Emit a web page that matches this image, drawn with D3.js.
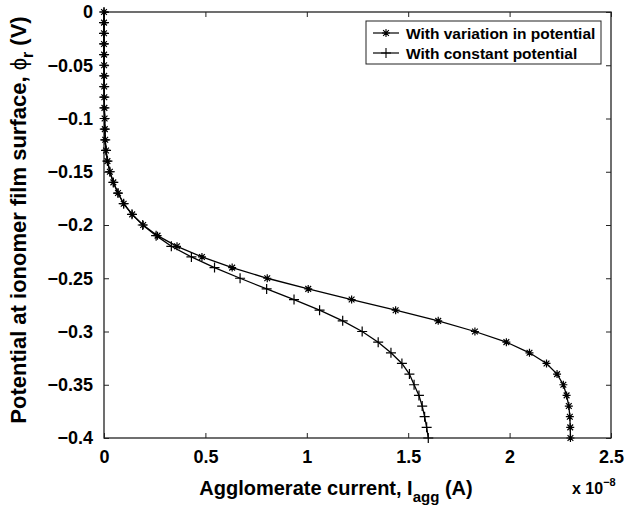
<!DOCTYPE html>
<html><head><meta charset="utf-8">
<script src="https://cdn.jsdelivr.net/npm/d3@7"></script>
<style>body{margin:0;background:#fff}svg{display:block}text{font-family:"Liberation Sans",Arial,Helvetica,sans-serif;font-weight:bold;fill:#000}</style>
</head><body><svg id="c" width="643" height="511"></svg>
<script>
const potential = [0,-0.01,-0.02,-0.03,-0.04,-0.05,-0.06,-0.07,-0.08,-0.09,-0.10,-0.11,-0.12,-0.13,-0.14,-0.15,-0.16,-0.17,-0.18,-0.19,-0.20,-0.21,-0.22,-0.23,-0.24,-0.25,-0.26,-0.27,-0.28,-0.29,-0.30,-0.31,-0.32,-0.33,-0.34,-0.35,-0.36,-0.37,-0.38,-0.39,-0.40];
const currentVariation = [0,0,0,0,0.0005,0.0005,0.001,0.001,0.0015,0.002,0.003,0.004,0.006,0.010,0.017,0.029,0.046,0.069,0.097,0.139,0.193,0.264,0.360,0.483,0.632,0.805,1.007,1.221,1.438,1.648,1.829,1.984,2.098,2.182,2.234,2.265,2.281,2.292,2.297,2.299,2.300];
const currentConstant = [0,0,0,0,0.0005,0.0005,0.001,0.001,0.0015,0.002,0.003,0.004,0.006,0.010,0.017,0.029,0.046,0.069,0.097,0.138,0.191,0.257,0.332,0.431,0.545,0.671,0.802,0.937,1.063,1.177,1.273,1.352,1.415,1.469,1.506,1.529,1.553,1.569,1.581,1.591,1.599];
const xTicks = [0,0.5,1,1.5,2,2.5];
const yTicks = [0,-0.05,-0.1,-0.15,-0.2,-0.25,-0.3,-0.35,-0.4];
const seriesNames = ["With variation in potential","With constant potential"];

const svg = d3.select("#c");
const L=104,R=611,T=12,B=438;
const x = d3.scaleLinear().domain([0,2.5]).range([L,R]);
const y = d3.scaleLinear().domain([-0.4,0]).range([B,T]);
const fmtY = d => d===0 ? "0" : "\u2212" + String(Math.abs(d));

// axes
const gx = svg.append("g").attr("transform",`translate(0,${B})`)
  .call(d3.axisBottom(x).tickValues(xTicks).tickFormat(d=>String(d)).tickSizeInner(-5).tickSizeOuter(0).tickPadding(12));
const gxt = svg.append("g").attr("transform",`translate(0,${T})`)
  .call(d3.axisTop(x).tickValues(xTicks).tickFormat("").tickSizeInner(-5).tickSizeOuter(0));
const gy = svg.append("g").attr("transform",`translate(${L},0)`)
  .call(d3.axisLeft(y).tickValues(yTicks).tickFormat(fmtY).tickSizeInner(-5).tickSizeOuter(0).tickPadding(11));
const gyr = svg.append("g").attr("transform",`translate(${R},0)`)
  .call(d3.axisRight(y).tickValues(yTicks).tickFormat("").tickSizeInner(-5).tickSizeOuter(0));
[gx,gxt,gy,gyr].forEach(g=>{g.select(".domain").remove();g.selectAll("line").attr("stroke","#222").attr("stroke-width",1);g.selectAll("text").attr("font-size",18).attr("font-family",null).attr("font-weight","bold").attr("fill","#000");});
svg.append("rect").attr("x",L).attr("y",T).attr("width",R-L).attr("height",B-T).attr("fill","none").attr("stroke","#222").attr("stroke-width",1.3);

// exponent
const ex = svg.append("text").attr("x",572).attr("y",494).attr("font-size",16);
ex.append("tspan").text("x 10");
ex.append("tspan").attr("dy",-8).attr("font-size",11).text("\u22128");

// axis labels
const xl = svg.append("text").attr("x",336).attr("y",495).attr("text-anchor","middle").attr("font-size",20);
xl.append("tspan").text("Agglomerate current, I");
xl.append("tspan").attr("dy",7).attr("font-size",15).text("agg");
xl.append("tspan").attr("dy",-7).text(" (A)");
const yl = svg.append("text").attr("transform","translate(26,220) rotate(-90)").attr("text-anchor","middle").attr("font-size",22);
yl.append("tspan").text("Potential at ionomer film surface,  ");
yl.append("tspan").attr("font-weight","normal").text("\u03d5");
yl.append("tspan").attr("dy",7).attr("font-size",16).text("r");
yl.append("tspan").attr("dy",-7).text(" (V)");

// markers
const star = s => `M${-s},0H${s}M0,${-s}V${s}M${-s*0.72},${-s*0.72}L${s*0.72},${s*0.72}M${-s*0.72},${s*0.72}L${s*0.72},${-s*0.72}`;
const plus = s => `M${-s},0H${s}M0,${-s}V${s}`;
const series = [
  {vals: currentVariation, mk: star(4)},
  {vals: currentConstant, mk: plus(5)}
];
const line = d3.line().x(d=>x(d[0])).y(d=>y(d[1]));
series.forEach(s=>{
  const pts = s.vals.map((v,i)=>[v,potential[i]]);
  svg.append("path").attr("d",line(pts)).attr("fill","none").attr("stroke","#000").attr("stroke-width",1.3);
  svg.append("g").selectAll("path").data(pts).join("path")
    .attr("transform",d=>`translate(${x(d[0])},${y(d[1])})`).attr("d",s.mk)
    .attr("stroke","#000").attr("stroke-width",1.2).attr("fill","none");
});

// legend
const lg = svg.append("g");
lg.append("rect").attr("x",366).attr("y",21).attr("width",235).attr("height",43).attr("fill","#fff").attr("stroke","#222").attr("stroke-width",1);
series.forEach((s,i)=>{
  const yy = 33 + i*20;
  lg.append("line").attr("x1",373).attr("x2",399).attr("y1",yy).attr("y2",yy).attr("stroke","#000").attr("stroke-width",1.2);
  lg.append("path").attr("transform",`translate(386,${yy})`).attr("d",s.mk).attr("stroke","#000").attr("stroke-width",1.1).attr("fill","none");
  lg.append("text").attr("x",406).attr("y",yy+5.5).attr("font-size",15.5).text(seriesNames[i]);
});
</script></body></html>
